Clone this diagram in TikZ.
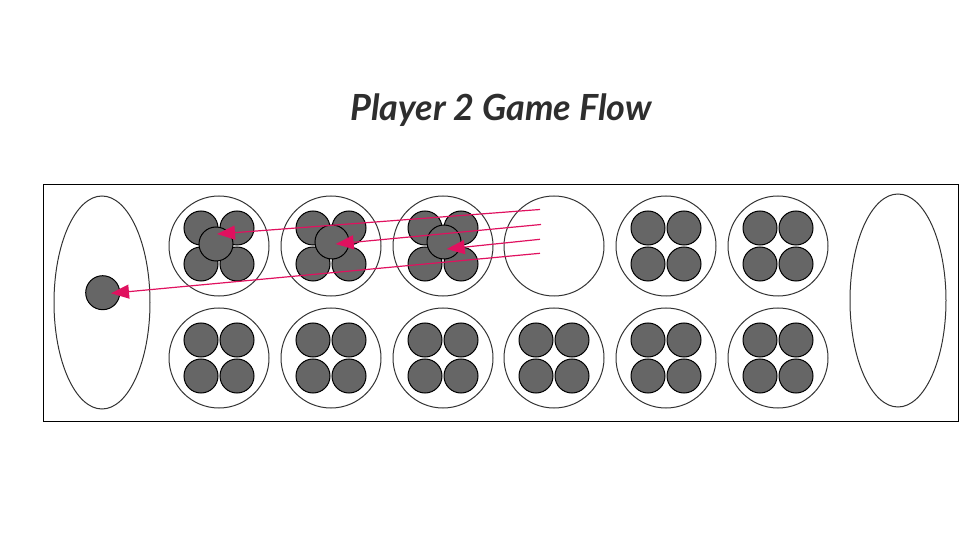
\documentclass[tikz,border=0pt]{standalone}
\usepackage{fontspec}
\setmainfont{Lato}
\usetikzlibrary{arrows.meta}
\definecolor{seedgray}{HTML}{666666}
\definecolor{pitline}{HTML}{333333}
\definecolor{flowpink}{HTML}{E0115F}
\definecolor{titlegray}{HTML}{2E2E2E}
\begin{document}
\begin{tikzpicture}[x=0.75pt,y=-0.75pt,
  pit/.style={circle,draw=pitline,line width=0.75pt,minimum size=75pt,inner sep=0pt},
  seed/.style={circle,draw=black,fill=seedgray,line width=0.75pt,minimum size=25.5pt,inner sep=0pt},
  flow/.style={draw=flowpink,line width=0.9pt,-{Triangle[length=13.5pt,width=10.5pt]}},
  title/.style={font=\bfseries\itshape\fontsize{27}{32}\selectfont,text=titlegray}
]
\useasboundingbox (0,0) rectangle (965,556);
\node[title] (title) at (501,110) {Player 2 Game Flow};
\node[draw=black,line width=0.75pt,minimum width=686.25pt,minimum height=177pt,inner sep=0pt] (board) at (500.5,303) {};
\draw[pitline,line width=0.75pt] (102,302.5) ellipse [x radius=48,y radius=106.5];
\coordinate (storeL) at (102,302.5);
\draw[pitline,line width=0.75pt] (898,300.5) ellipse [x radius=48,y radius=106.5];
\coordinate (storeR) at (898,300.5);
% top row pits
\foreach \i/\x in {1/219,2/331,3/443,4/554,5/666,6/778}{
  \node[pit] (t\i) at (\x,246) {};
}
\foreach \i/\x in {1/219,2/331,3/443,4/554,5/666,6/778}{
  \node[pit] (b\i) at (\x,358) {};
}
% seeds in top row (except pit 4, empty)
\foreach \i in {1,2,3,5,6}{
  \node[seed] (t\i a) at ([shift={(-18,-18)}]t\i.center) {};
  \node[seed] (t\i b) at ([shift={(18,-18)}]t\i.center) {};
  \node[seed] (t\i c) at ([shift={(-18,18)}]t\i.center) {};
  \node[seed] (t\i d) at ([shift={(18,18)}]t\i.center) {};
}
\foreach \i in {1,...,6}{
  \node[seed] (b\i a) at ([shift={(-18,-18)}]b\i.center) {};
  \node[seed] (b\i b) at ([shift={(18,-18)}]b\i.center) {};
  \node[seed] (b\i c) at ([shift={(-18,18)}]b\i.center) {};
  \node[seed] (b\i d) at ([shift={(18,18)}]b\i.center) {};
}
% moving seeds
\node[seed] (m1) at (216,244) {};
\node[seed] (m2) at (332,242) {};
\node[seed] (m3) at (444,242) {};
\node[seed] (ms) at (102.7,292.7) {};
% arrows
\coordinate (s1) at (540,209.5);
\coordinate (s2) at (541,224.5);
\coordinate (s3) at (540,239.3);
\coordinate (s4) at (540,253.3);
\coordinate (e1) at (217,234);
\coordinate (e2) at (335.7,244);
\coordinate (e3) at (446.7,249);
\coordinate (e4) at (111,293.3);
\draw[flow] (s1) -- (e1);
\draw[flow] (s2) -- (e2);
\draw[flow] (s3) -- (e3);
\draw[flow] (s4) -- (e4);
\end{tikzpicture}
\end{document}
